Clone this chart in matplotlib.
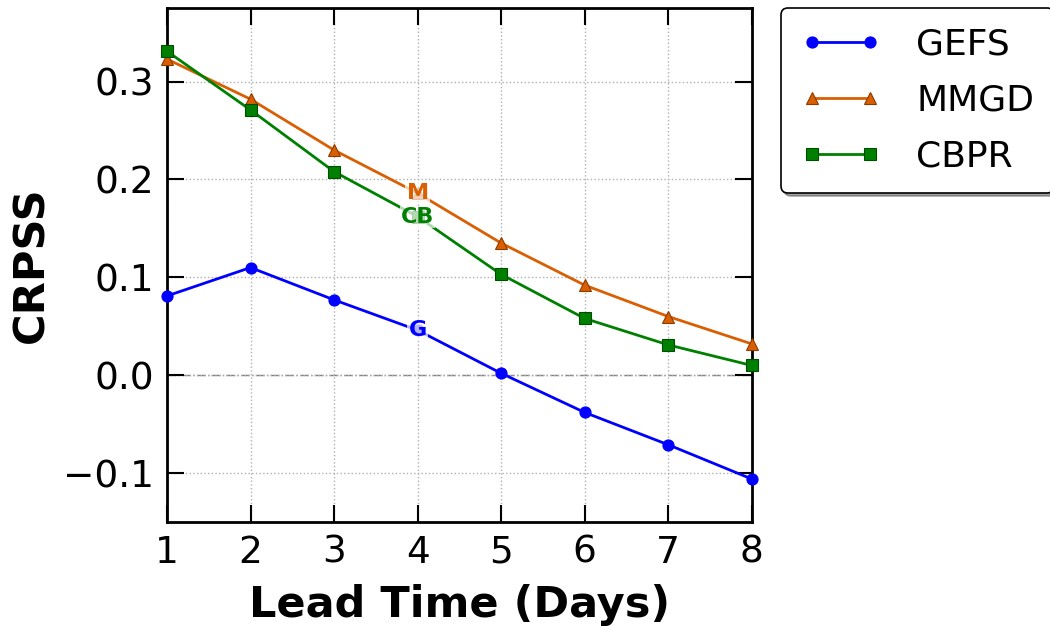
import matplotlib
matplotlib.use("Agg")
import matplotlib.pyplot as plt

lead_days = [1, 2, 3, 4, 5, 6, 7, 8]
gefs = [0.081, 0.110, 0.077, 0.046, 0.002, -0.038, -0.071, -0.106]
mmgd = [0.323, 0.282, 0.230, 0.186, 0.135, 0.092, 0.060, 0.032]
cbpr = [0.331, 0.271, 0.208, 0.162, 0.103, 0.058, 0.031, 0.010]

series_names = ["GEFS", "MMGD", "CBPR"]
short_names = ["G", "M", "CB"]
colors = ["#0000ff", "#d95f02", "#008000"]
edge_colors = ["#0000ff", "#8a3c00", "#004d00"]
markers = ["o", "^", "s"]

plt.rcParams["font.family"] = ["DejaVu Sans"]

fig = plt.figure(figsize=(10.5, 6.26), dpi=100)
ax = fig.add_axes([0.159, 0.166, 0.557, 0.821])

label_day = 4
for vals, name, short, c, ec, m in zip([gefs, mmgd, cbpr], series_names, short_names,
                                        colors, edge_colors, markers):
    ax.plot(lead_days, vals, color=c, lw=2, marker=m, markersize=8,
            markerfacecolor=c, markeredgecolor=ec, markeredgewidth=0.8,
            label=name, clip_on=False, zorder=3)
    idx = lead_days.index(label_day)
    ax.text(label_day, vals[idx], short, color=c, fontsize=16, fontweight="bold",
            ha="center", va="center", zorder=4,
            bbox=dict(boxstyle="square,pad=0.05", facecolor="white",
                      edgecolor="none", alpha=0.7))

ax.axhline(0, color="gray", lw=1, ls="-.", zorder=1)
ax.grid(True, ls=":", color="#b0b0b0", lw=1)

ax.set_xlim(1, 8)
ax.set_ylim(-0.15, 0.375)
ax.set_xticks(lead_days)
ax.set_yticks([-0.1, 0.0, 0.1, 0.2, 0.3])
ax.set_yticklabels(["\u22120.1", "0.0", "0.1", "0.2", "0.3"])

ax.tick_params(direction="in", length=12, width=1.5, labelsize=27,
               top=True, right=True, pad=9)
for sp in ax.spines.values():
    sp.set_linewidth(2)

ax.set_xlabel("Lead Time (Days)", fontsize=31, fontweight="bold", labelpad=10)
ax.set_ylabel("CRPSS", fontsize=31, fontweight="bold", labelpad=8)

leg = ax.legend(loc="upper left", bbox_to_anchor=(1.05, 1.0), borderaxespad=0,
                fontsize=26, frameon=True, fancybox=True, shadow=True, numpoints=2,
                handlelength=2.2, borderpad=0.55, labelspacing=0.6, handletextpad=1.0)
leg.get_frame().set_edgecolor("black")
leg.get_frame().set_linewidth(1.2)

fig.savefig("out.png", dpi=100)
